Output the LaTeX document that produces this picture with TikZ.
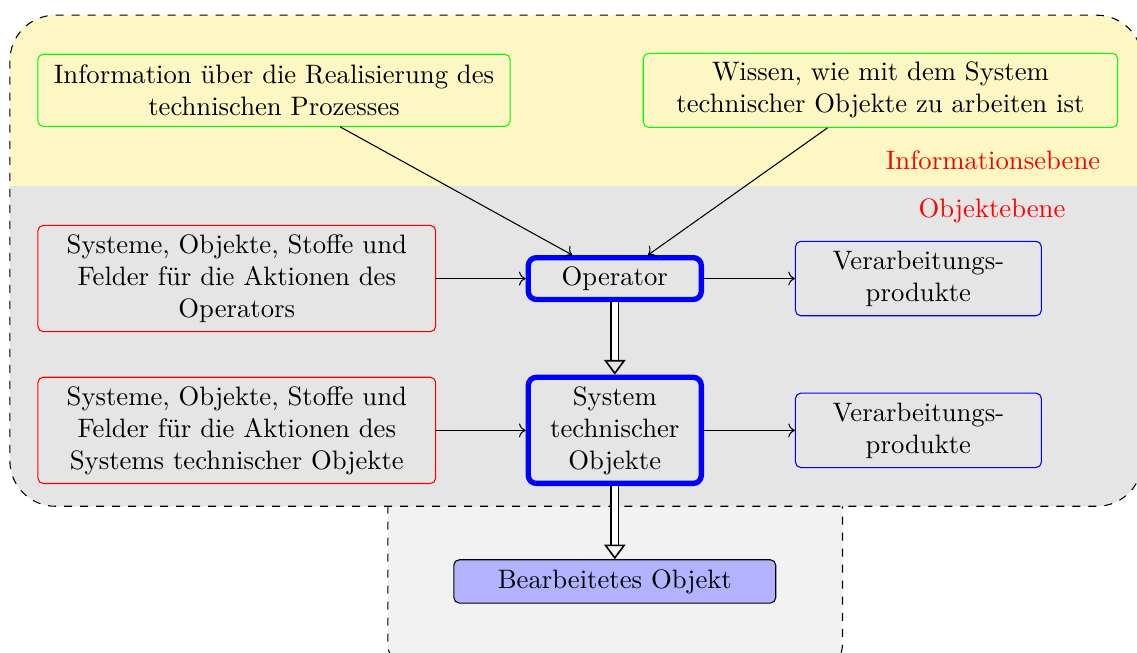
\documentclass[tikz,border=0pt]{standalone}
\usetikzlibrary{arrows.meta}
\definecolor{infoyellow}{RGB}{253,247,195}
\tikzset{
  infobox/.style={draw=green, rounded corners=2pt, align=center, minimum height=0.95cm},
  inbox/.style={draw=red, rounded corners=2pt, align=center, minimum width=5.24cm, minimum height=1.4cm},
  corebox/.style={draw=blue, line width=2pt, rounded corners=3pt, align=center, minimum width=2.28cm},
  outbox/.style={draw=blue, rounded corners=2pt, align=center, minimum width=3.24cm, minimum height=0.98cm},
  levellabel/.style={text=red},
  flow/.style={semithick, double, double distance=2.2pt, -{Triangle[open, length=5.5pt, width=8pt]}}
}

\begin{document}
\begin{tikzpicture}
\useasboundingbox (0,0) rectangle (14.98,-8.60);
% lower area
\draw[dashed, fill=gray!10, rounded corners=0.25cm] (5.11,-6.2) rectangle (11.10,-8.75);
% main area, yellow on top of gray
\fill[gray!20, rounded corners=0.6cm] (0.13,-0.20) rectangle (15.05,-6.67);
\begin{scope}
\clip (0,0) rectangle (15.2,-2.44);
\fill[infoyellow, rounded corners=0.6cm] (0.13,-0.20) rectangle (15.05,-6.67);
\end{scope}
\draw[dashed, rounded corners=0.6cm] (0.13,-0.20) rectangle (15.05,-6.67);

\node[infobox, minimum width=6.22cm] (info) at (3.61,-1.19) {Information über die Realisierung des\\ technischen Prozesses};
\node[infobox, minimum width=6.25cm] (know) at (11.60,-1.19) {Wissen, wie mit dem System\\ technischer Objekte zu arbeiten ist};
\node[levellabel, anchor=east] at (14.62,-2.11) {Informationsebene};
\node[levellabel] at (13.07,-2.78) {Objektebene};

\node[inbox] (opin) at (3.12,-3.67) {Systeme, Objekte, Stoffe und\\ Felder für die Aktionen des\\ Operators};
\node[corebox] (op) at (8.10,-3.67) {Operator};
\node[outbox] (opout) at (12.10,-3.67) {Verarbeitungs-\\ produkte};

\node[inbox] (sysin) at (3.12,-5.67) {Systeme, Objekte, Stoffe und\\ Felder für die Aktionen des\\ Systems technischer Objekte};
\node[corebox] (sys) at (8.10,-5.67) {System\\ technischer\\ Objekte};
\node[outbox] (sysout) at (12.10,-5.67) {Verarbeitungs-\\ produkte};

\node[draw, fill=blue!30, rounded corners=2pt, minimum width=4.24cm, minimum height=0.57cm] (result) at (8.10,-7.66) {Bearbeitetes Objekt};

\draw[->] (info) -- (op);
\draw[->] (know) -- (op);
\draw[->] (opin) -- (op);
\draw[->] (op) -- (opout);
\draw[->] (sysin) -- (sys);
\draw[->] (sys) -- (sysout);
\draw[flow] (op) -- (sys);
\draw[flow] (sys) -- (result);
\end{tikzpicture}
\end{document}
